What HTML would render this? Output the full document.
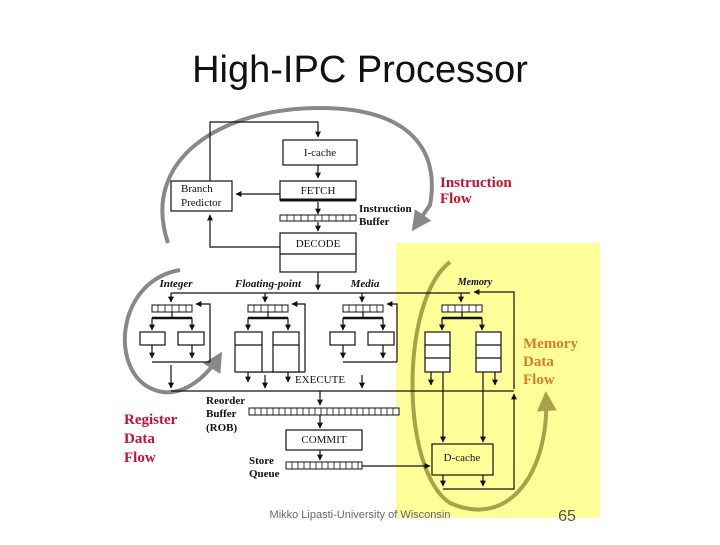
<!DOCTYPE html>
<html><head><style>
body{margin:0;background:#fff;}
svg text{font-family:"Liberation Serif",serif;}
</style></head><body>
<svg width="720" height="540" viewBox="0 0 720 540" xmlns="http://www.w3.org/2000/svg">
<defs>
<marker id="a" viewBox="0 0 10 10" refX="9" refY="5" markerWidth="5" markerHeight="6" orient="auto-start-reverse"><path d="M0,0L10,5L0,10z" fill="#111"/></marker>
<marker id="g" viewBox="0 0 10 10" refX="8" refY="5" markerWidth="5" markerHeight="5" orient="auto"><path d="M0,0L10,5L0,10z" fill="#888"/></marker>
<marker id="y" viewBox="0 0 10 10" refX="8" refY="5" markerWidth="5" markerHeight="5" orient="auto"><path d="M0,0L10,5L0,10z" fill="#a9a24a"/></marker>
</defs>
<rect x="396" y="243" width="204" height="275" fill="#ffff99"/>
<text x="360" y="82" font-size="38" text-anchor="middle" style="font-family:'Liberation Sans',sans-serif" fill="#111">High-IPC Processor</text>
<!-- gray arcs -->
<path d="M168,243 C140,160 220,108 320,108 C410,108 440,150 430,205 L414,228" fill="none" stroke="#888" stroke-width="4" marker-end="url(#g)"/>
<path d="M180,270 C120,280 110,360 145,385 C175,405 205,380 220,355" fill="none" stroke="#888" stroke-width="4" marker-end="url(#g)"/>
<path d="M450,262 C400,300 400,470 450,503 C510,530 550,470 546,395" fill="none" stroke="#a9a24a" stroke-width="4" marker-end="url(#y)"/>
<g stroke="#111" fill="none" stroke-width="1.2">
<rect x="283" y="140" width="74" height="25" fill="#fff"/>
<rect x="280" y="181" width="76" height="19" fill="#fff"/>
<line x1="280" y1="200" x2="356" y2="200" stroke-width="3"/>
<rect x="171" y="181" width="61" height="30" fill="#fff"/>
<rect x="280" y="233" width="76" height="39" fill="#fff"/>
<line x1="280" y1="254" x2="356" y2="254"/>
<path d="M210,181V122H318V137" marker-end="url(#a)"/>
<path d="M318,165V178" marker-end="url(#a)"/>
<path d="M280,194H236" marker-end="url(#a)"/>
<path d="M318,202V214" marker-end="url(#a)"/>
<path d="M318,222V231" marker-end="url(#a)"/>
<path d="M280,247H210V215" marker-end="url(#a)"/>
<path d="M318,272V290" marker-end="url(#a)"/>
<line x1="171" y1="293" x2="470" y2="293"/>
<path d="M514,389V292H474" marker-end="url(#a)"/>
<path d="M171,293V302" marker-end="url(#a)"/>
<path d="M265,293V302" marker-end="url(#a)"/>
<path d="M362,293V302" marker-end="url(#a)"/>
<path d="M461,293V302" marker-end="url(#a)"/>
<line x1="171" y1="391" x2="514" y2="391"/>
</g>
<!-- queues -->
<g stroke="#111" stroke-width="1" fill="#fff">
<rect x="152" y="305" width="40" height="7"/><rect x="248" y="305" width="40" height="7"/><rect x="343" y="305" width="40" height="7"/><rect x="442" y="305" width="40" height="7"/>
<rect x="249" y="408" width="150" height="7"/><rect x="286" y="462" width="76" height="7"/><rect x="280" y="215" width="76" height="6"/>
</g>
<g stroke="#111" stroke-width="0.8">
<path d="M158,305v7M165,305v7M172,305v7M179,305v7M186,305v7M254,305v7M261,305v7M268,305v7M275,305v7M282,305v7M349,305v7M356,305v7M363,305v7M370,305v7M377,305v7M448,305v7M455,305v7M462,305v7M469,305v7M476,305v7"/>
<path d="M287,215v6M294,215v6M301,215v6M308,215v6M315,215v6M322,215v6M329,215v6M336,215v6M343,215v6M350,215v6"/>
<path d="M255,408v7M261,408v7M267,408v7M273,408v7M279,408v7M285,408v7M291,408v7M297,408v7M303,408v7M309,408v7M315,408v7M321,408v7M327,408v7M333,408v7M339,408v7M345,408v7M351,408v7M357,408v7M363,408v7M369,408v7M375,408v7M381,408v7M387,408v7M393,408v7"/>
<path d="M292,462v7M298,462v7M304,462v7M310,462v7M316,462v7M322,462v7M328,462v7M334,462v7M340,462v7M346,462v7M352,462v7M358,462v7"/>
</g>
<g stroke="#111" fill="none" stroke-width="1.2">
<!-- feedback -->
<path d="M210,362V304H196" marker-end="url(#a)"/><path d="M152,362H210"/>
<path d="M305,372V304H292" marker-end="url(#a)"/><path d="M248,372H305"/>
<path d="M397,362V304H387" marker-end="url(#a)"/><path d="M343,362H397"/>
<!-- splits -->
<path d="M152,318H192" stroke-width="2.5"/><path d="M248,318H288" stroke-width="2.5"/><path d="M343,318H383" stroke-width="2.5"/><path d="M442,318H482" stroke-width="2.5"/>
<path d="M172,312V318"/><path d="M268,312V318"/><path d="M363,312V318"/><path d="M462,312V318"/>
<path d="M152,318V330" marker-end="url(#a)"/><path d="M192,318V330" marker-end="url(#a)"/>
<path d="M248,318V330" marker-end="url(#a)"/><path d="M288,318V330" marker-end="url(#a)"/>
<path d="M343,318V330" marker-end="url(#a)"/><path d="M383,318V330" marker-end="url(#a)"/>
<path d="M442,318V330" marker-end="url(#a)"/><path d="M482,318V330" marker-end="url(#a)"/>
<rect x="140" y="332" width="25" height="13" fill="#fff"/><rect x="178" y="332" width="26" height="13" fill="#fff"/>
<rect x="235" y="332" width="27" height="40" fill="#fff"/><rect x="273" y="332" width="26" height="40" fill="#fff"/>
<path d="M235,345H262M273,345H299"/>
<rect x="330" y="332" width="25" height="13" fill="#fff"/><rect x="368" y="332" width="26" height="13" fill="#fff"/>
<rect x="425" y="332" width="25" height="40" fill="#fff"/><rect x="476" y="332" width="25" height="40" fill="#fff"/>
<path d="M425,345H450M425,358H450M476,345H501M476,358H501"/>
<path d="M152,345V358" marker-end="url(#a)"/><path d="M192,345V358" marker-end="url(#a)"/>
<path d="M248,372V382" marker-end="url(#a)"/><path d="M288,372V382" marker-end="url(#a)"/>
<path d="M343,345V358" marker-end="url(#a)"/><path d="M383,345V358" marker-end="url(#a)"/>
<path d="M431,372V385" marker-end="url(#a)"/><path d="M495,372V385" marker-end="url(#a)"/>
<path d="M171,365V388" marker-end="url(#a)"/><path d="M265,375V388" marker-end="url(#a)"/><path d="M362,375V388" marker-end="url(#a)"/>
<path d="M320,391V405" marker-end="url(#a)"/>
<path d="M320,415V428" marker-end="url(#a)"/>
<rect x="286" y="430" width="76" height="20" fill="#fff"/>
<path d="M320,450V460" marker-end="url(#a)"/>
<path d="M362,466H430" marker-end="url(#a)"/>
<rect x="432" y="444" width="61" height="31" fill="none"/>
<path d="M443,372V442" marker-end="url(#a)"/><path d="M483,372V442" marker-end="url(#a)"/>
<path d="M443,475V486" marker-end="url(#a)"/><path d="M483,475V486" marker-end="url(#a)"/>
<path d="M443,489H514V394" marker-end="url(#a)"/>
</g>
<g font-size="11" fill="#111">
<text x="320" y="156" text-anchor="middle">I-cache</text>
<text x="318" y="194" text-anchor="middle">FETCH</text>
<text x="181" y="192">Branch</text><text x="181" y="206">Predictor</text>
<text x="318" y="247" text-anchor="middle">DECODE</text>
<text x="359" y="212" font-weight="bold">Instruction</text><text x="359" y="225" font-weight="bold">Buffer</text>
<text x="176" y="287" text-anchor="middle" font-weight="bold" font-style="italic">Integer</text>
<text x="268" y="287" text-anchor="middle" font-weight="bold" font-style="italic">Floating-point</text>
<text x="365" y="287" text-anchor="middle" font-weight="bold" font-style="italic">Media</text>
<text x="475" y="285" text-anchor="middle" font-weight="bold" font-style="italic" font-size="10">Memory</text>
<text x="320" y="383" text-anchor="middle">EXECUTE</text>
<text x="206" y="404" font-weight="bold">Reorder</text><text x="206" y="417" font-weight="bold">Buffer</text><text x="206" y="431" font-weight="bold">(ROB)</text>
<text x="324" y="443" text-anchor="middle">COMMIT</text>
<text x="249" y="464" font-weight="bold">Store</text><text x="249" y="477" font-weight="bold">Queue</text>
<text x="462" y="461" text-anchor="middle">D-cache</text>
</g>
<g font-size="15" font-weight="bold">
<text x="440" y="187" fill="#c8102e">Instruction</text><text x="440" y="203" fill="#c8102e">Flow</text>
<text x="124" y="424" fill="#c8102e">Register</text><text x="124" y="443" fill="#c8102e">Data</text><text x="124" y="462" fill="#c8102e">Flow</text>
<text x="523" y="348" fill="#e07a2a">Memory</text><text x="523" y="366" fill="#e07a2a">Data</text><text x="523" y="384" fill="#e07a2a">Flow</text>
</g>
<text x="360" y="518" font-size="11" text-anchor="middle" fill="#666" style="font-family:'Liberation Sans',sans-serif">Mikko Lipasti-University of Wisconsin</text>
<text x="567" y="521" font-size="16" text-anchor="middle" fill="#555" style="font-family:'Liberation Sans',sans-serif">65</text>
</svg>
</body></html>
